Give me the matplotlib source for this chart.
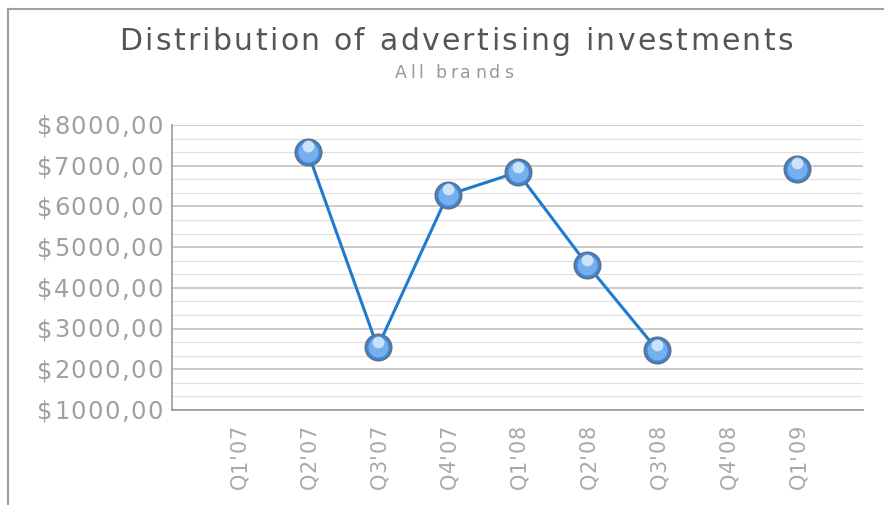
import numpy as np
import matplotlib.pyplot as plt
from matplotlib.ticker import MultipleLocator, NullFormatter
from matplotlib.transforms import offset_copy

# dados
quarters = ["Q1'07", "Q2'07", "Q3'07", "Q4'07", "Q1'08", "Q2'08", "Q3'08", "Q4'08", "Q1'09"]
investments = [np.nan, 7340, 2540, 6280, 6840, 4560, 2470, np.nan, 6920]
yticks = [1000, 2000, 3000, 4000, 5000, 6000, 7000, 8000]

title = 'Distribution of advertising investments'
subtitle = 'All brands'

W, H = 884, 505
fig = plt.figure(figsize=(W/100, H/100), dpi=100)
ax = fig.add_axes([172/W, 1 - 410/H, (863 - 172)/W, (410 - 125)/H])
rend = fig.canvas.get_renderer()


def largura(s, size):
    # largura do texto em pixels (com 'x' no fim pra contar espacos)
    t = fig.text(0, 0, s + 'x', fontsize=size)
    w = t.get_window_extent(rend).width
    t.remove()
    t = fig.text(0, 0, 'x', fontsize=size)
    w -= t.get_window_extent(rend).width
    t.remove()
    return w


def espacado(s, x0, y0, size, color, track, ha='left', rot=0):
    # texto com espacamento entre letras, coordenadas em pixels da figura
    pos = [largura(s[:i], size) + i*track for i in range(len(s))]
    total = largura(s, size) + track*(len(s) - 1)
    if ha == 'center':
        start = -total/2
    elif ha == 'right':
        start = -total
    else:
        start = 0
    for c, p in zip(s, pos):
        if rot == 0:
            fig.text((x0 + start + p)/W, y0/H, c, fontsize=size, color=color,
                     ha='left', va='baseline')
        else:
            fig.text(x0/W, (y0 + start + p)/H, c, fontsize=size, color=color,
                     ha='left', va='baseline', rotation=90, rotation_mode='anchor')


def cap(size):
    return size*100/72*0.729


# moldura externa
fig.add_artist(plt.Line2D([8/W, 8/W], [0, 1 - 9/H], color='#a0a0a0', lw=1.5,
                          transform=fig.transFigure))
fig.add_artist(plt.Line2D([8/W, 1], [1 - 9/H, 1 - 9/H], color='#a0a0a0', lw=1.5,
                          transform=fig.transFigure))

x = np.arange(len(quarters))
y = np.array(investments, dtype=float)

ax.plot(x, y, color='#1f7bd0', lw=2.2, zorder=3)
# bolinhas
ax.plot(x, y, 'o', ms=19, mfc='#3f86d6', mec='#5f7287', mew=1.2, zorder=4)
ax.plot(x, y, 'o', ms=14.5, mfc='#74b0ee', mec='none', zorder=5)
hl = offset_copy(ax.transData, fig=fig, x=0, y=4, units='points')
ax.plot(x, y, 'o', ms=8.5, mfc='#d4e8fc', mec='none', alpha=0.9, zorder=6, transform=hl)

ax.set_xlim(-0.94, 8.94)
ax.set_ylim(1000, 8000)
ax.set_yticks(yticks)
ax.yaxis.set_minor_locator(MultipleLocator(1000/3))
ax.yaxis.set_major_formatter(NullFormatter())
ax.grid(True, which='major', axis='y', color='#bdbdbd', lw=1.1)
ax.grid(True, which='minor', axis='y', color='#e0e0e0', lw=0.9)
ax.set_axisbelow(True)

ax.set_xticks(x)
ax.xaxis.set_major_formatter(NullFormatter())
ax.tick_params(axis='both', which='both', length=0)

for s in ['top', 'right']:
    ax.spines[s].set_visible(False)
for s in ['left', 'bottom']:
    ax.spines[s].set_color('#999999')
    ax.spines[s].set_linewidth(1.2)

# rotulos do eixo y
ys = 17.5
for v in yticks:
    py = ax.transData.transform((0, v))[1]
    espacado('$%d,00' % v, 163, py - cap(ys)/2, ys, '#a0a0a0', 1.4, ha='right')

# rotulos do eixo x (girados)
xs = 15
for i, q in enumerate(quarters):
    px = ax.transData.transform((i, 1000))[0]
    L = largura(q, xs) + 0.6*(len(q) - 1)
    espacado(q, px + cap(xs)/2, H - 425 - L, xs, '#a8a8a8', 0.6, rot=90)

espacado(title, 456, H - 50, 21.5, '#555555', 2.4, ha='center')
espacado(subtitle, 454, H - 78, 12.5, '#999999', 3.4, ha='center')

plt.savefig('out.png', dpi=100)
